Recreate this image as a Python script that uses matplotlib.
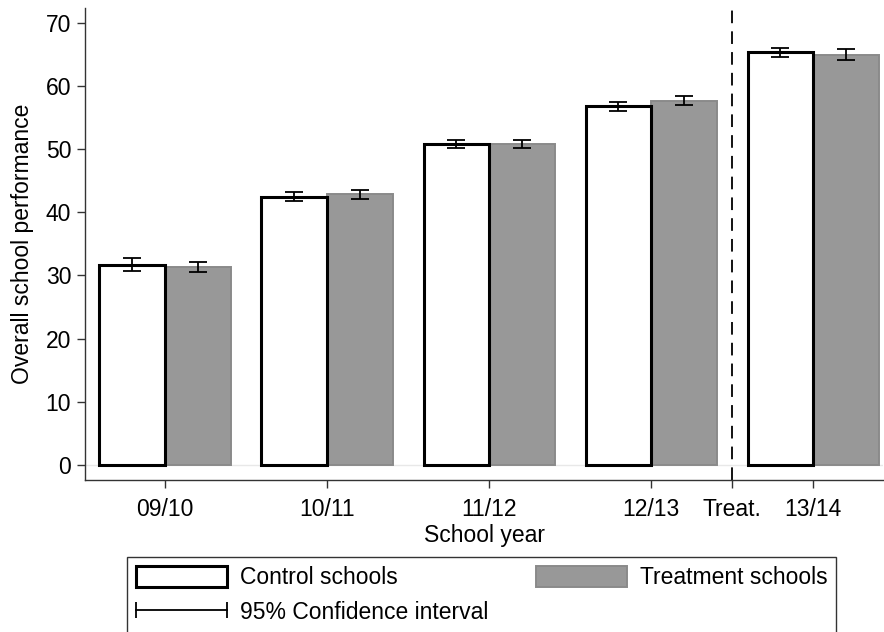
'''Bar chart of overall school performance by school year, control vs treatment'''
import matplotlib
matplotlib.use('Agg')
import matplotlib.pyplot as plt
from matplotlib.lines import Line2D
from matplotlib.patches import Patch
from matplotlib.legend_handler import HandlerLine2D

plt.rcParams['font.family'] = ['Liberation Sans', 'DejaVu Sans']

years = ['09/10', '10/11', '11/12', '12/13', '13/14']
year_pos = [1, 2, 3, 4, 5]
treat_pos = 4.5
control_mean = [31.7, 42.5, 50.8, 56.8, 65.4]
control_ci = [1.0, 0.75, 0.65, 0.7, 0.7]
treatment_mean = [31.3, 42.9, 50.9, 57.7, 65.0]
treatment_ci = [0.8, 0.7, 0.65, 0.7, 0.85]

FS = 16.5
W = 0.405
GRAY = '#989898'

fig = plt.figure(figsize=(8.84, 6.32), dpi=100)
ax = fig.add_axes([85 / 884, 1 - 480 / 632, 798 / 884, 472 / 632])

ctrl_x = [p - W / 2 for p in year_pos]
trt_x = [p + W / 2 for p in year_pos]

# thin base line at zero
ax.axhline(0, color='#e8e8e8', lw=1.0, zorder=0)

ax.bar(trt_x, treatment_mean, width=W, color=GRAY, edgecolor='#8a8a8a',
       linewidth=1.4, zorder=2)
ax.bar(ctrl_x, control_mean, width=W, color='white', edgecolor='black',
       linewidth=2.2, zorder=3)
ax.errorbar(ctrl_x, control_mean, yerr=control_ci, fmt='none', ecolor='black',
            elinewidth=1.3, capsize=6.2, capthick=1.3, zorder=4)
ax.errorbar(trt_x, treatment_mean, yerr=treatment_ci, fmt='none', ecolor='black',
            elinewidth=1.3, capsize=6.2, capthick=1.3, zorder=4)

# start of treatment
ax.axvline(treat_pos, color='black', lw=1.3, dashes=(7, 4.5), zorder=1)

ax.set_xlim(0.5065, 5.43)
ax.set_ylim(-2.42, 72.4)
ax.set_yticks(range(0, 80, 10))
ax.set_xticks(year_pos[:4] + [treat_pos] + year_pos[4:])
ax.set_xticklabels(years[:4] + ['Treat.'] + years[4:])
ax.tick_params(axis='both', labelsize=FS, direction='out', length=6,
               width=1.0, color='#333333')
ax.tick_params(axis='x', pad=7)
ax.tick_params(axis='y', pad=4)
for side in ['top', 'right']:
    ax.spines[side].set_visible(False)
for side in ['left', 'bottom']:
    ax.spines[side].set_color('#333333')
    ax.spines[side].set_linewidth(1.0)

ax.set_xlabel('School year', fontsize=FS, labelpad=2)
ax.set_ylabel('Overall school performance', fontsize=FS, labelpad=8)

handles = [
    Patch(facecolor='white', edgecolor='black', linewidth=2.2),
    Line2D([0, 1], [0, 0], color='black', lw=1.3, marker='|',
           markersize=12, markeredgewidth=1.3),
    Patch(facecolor=GRAY, edgecolor='#8a8a8a', linewidth=1.4),
]
labels = ['Control schools', '95% Confidence interval', 'Treatment schools']
leg = fig.legend(handles, labels, loc='upper left',
                 bbox_to_anchor=(127 / 884, 1 - 557 / 632), ncol=2,
                 fontsize=FS, frameon=True, fancybox=False, numpoints=2,
                 handlelength=3.97, handleheight=1.0, handletextpad=0.57,
                 borderpad=0.4, columnspacing=2.05, labelspacing=0.52,
                 borderaxespad=0,
                 handler_map={Line2D: HandlerLine2D(marker_pad=0)})
leg.get_frame().set_edgecolor('black')
leg.get_frame().set_linewidth(1.0)

fig.savefig('out.png', dpi=100)
